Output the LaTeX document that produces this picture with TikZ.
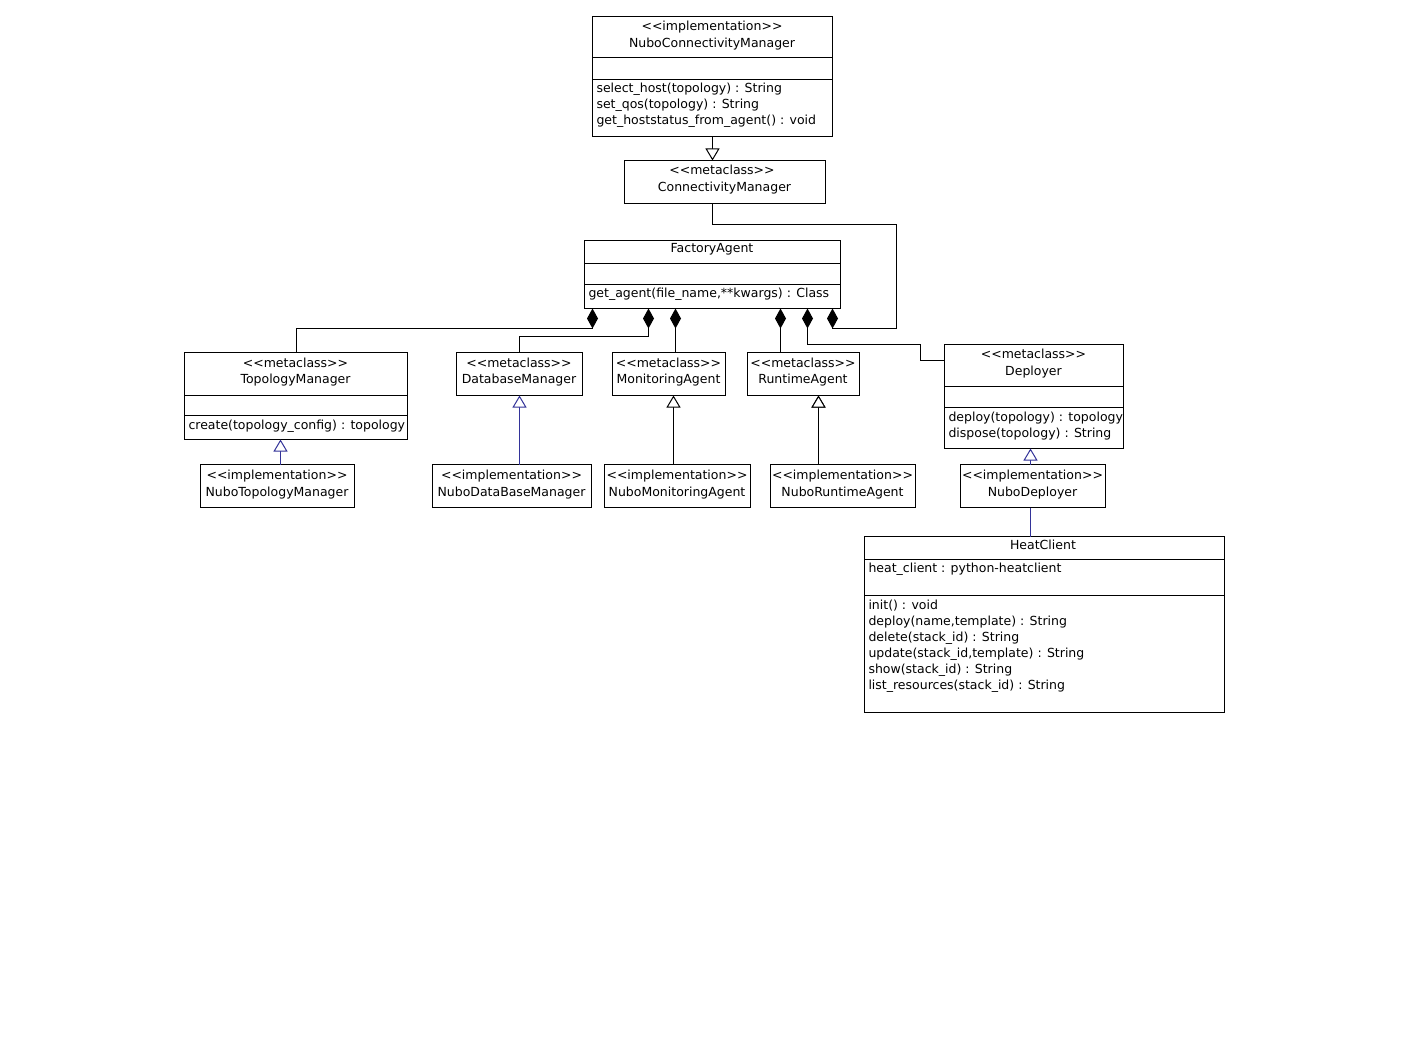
\documentclass[tikz,border=0pt]{standalone}
\usepackage{fontspec}
\setmainfont{DejaVu Sans}
\usetikzlibrary{arrows.meta,calc,positioning}
\definecolor{umlblue}{RGB}{51,51,153}
\newcommand{\stopen}{\textless\kern0pt\textless}
\newcommand{\stclose}{\textgreater\kern0pt\textgreater}

\tikzset{
  cls/.style={draw, fill=white, inner sep=0pt, outer sep=0pt},
  hd/.style={inner sep=0pt, anchor=base},
  op/.style={inner sep=0pt, anchor=base west},
  comp/.style={{Diamond[length=20pt,width=11pt]}-},
  gen/.style={-{Triangle[open,fill=white,length=12pt,width=14pt]}},
  genb/.style={gen, draw=umlblue},
  assoc/.style={draw=umlblue}
}

\begin{document}
\begin{tikzpicture}[x=1pt, y=-1pt, line width=1pt,
                    font=\fontsize{12.5pt}{16pt}\selectfont]

    \fill[white] (0,0) rectangle (1408,1064);
    \useasboundingbox (0,0) rectangle (1408,1064);

    % class boxes
    \node[cls, minimum width=240, minimum height=120] (ncm) at (712.5,76.5) {};
    \node[cls, minimum width=201, minimum height=43] (cm) at (725,182) {};
    \node[cls, minimum width=256, minimum height=68] (fa) at (712.5,274.5) {};
    \node[cls, minimum width=223, minimum height=87] (tm) at (296,396) {};
    \node[cls, minimum width=126, minimum height=43] (dbm) at (519.5,374) {};
    \node[cls, minimum width=113, minimum height=43] (mon) at (669,374) {};
    \node[cls, minimum width=112, minimum height=43] (rt) at (803.5,374) {};
    \node[cls, minimum width=179, minimum height=104] (dep) at (1034,396.5) {};
    \node[cls, minimum width=154, minimum height=43] (ntm) at (277.5,486) {};
    \node[cls, minimum width=159, minimum height=43] (ndb) at (512,486) {};
    \node[cls, minimum width=146, minimum height=43] (nmon) at (677.5,486) {};
    \node[cls, minimum width=145, minimum height=43] (nrt) at (843,486) {};
    \node[cls, minimum width=145, minimum height=43] (ndep) at (1033,486) {};
    \node[cls, minimum width=360, minimum height=176] (heat) at (1044.5,624.5) {};

    % compartments
    \draw ($(ncm.north west)+(0,41)$) -- ($(ncm.north east)+(0,41)$);
    \draw ($(ncm.north west)+(0,63)$) -- ($(ncm.north east)+(0,63)$);
    \draw ($(fa.north west)+(0,23)$) -- ($(fa.north east)+(0,23)$);
    \draw ($(fa.north west)+(0,44)$) -- ($(fa.north east)+(0,44)$);
    \draw ($(tm.north west)+(0,43)$) -- ($(tm.north east)+(0,43)$);
    \draw ($(tm.north west)+(0,63)$) -- ($(tm.north east)+(0,63)$);
    \draw ($(dep.north west)+(0,42)$) -- ($(dep.north east)+(0,42)$);
    \draw ($(dep.north west)+(0,63)$) -- ($(dep.north east)+(0,63)$);
    \draw ($(heat.north west)+(0,23)$) -- ($(heat.north east)+(0,23)$);
    \draw ($(heat.north west)+(0,59)$) -- ($(heat.north east)+(0,59)$);

    % texts
    \node[hd] (ncm-st) at (712,31) {\stopen implementation\stclose};
    \node[hd] (ncm-nm) at (712,48) {NuboConnectivityManager};
    \node[op] (ncm-m1) at (596,93) {select\_host(topology) : String};
    \node[op] (ncm-m2) at (596,109) {set\_qos(topology) : String};
    \node[op] (ncm-m3) at (596,125) {get\_hoststatus\_from\_agent() : void};

    \node[hd] (cm-st) at (722,175) {\stopen metaclass\stclose};
    \node[hd] (cm-nm) at (724.5,192) {ConnectivityManager};

    \node[hd] (fa-nm) at (712,253) {FactoryAgent};
    \node[op] (fa-m1) at (588,298) {get\_agent(file\_name,**kwargs) : Class};

    \node[hd] (tm-st) at (295.5,367) {\stopen metaclass\stclose};
    \node[hd] (tm-nm) at (295.5,384) {TopologyManager};
    \node[op] (tm-m1) at (188,429) {create(topology\_config) : topology};

    \node[hd] (dbm-st) at (519,367) {\stopen metaclass\stclose};
    \node[hd] (dbm-nm) at (519,384) {DatabaseManager};
    \node[hd] (mon-st) at (668.5,367) {\stopen metaclass\stclose};
    \node[hd] (mon-nm) at (668.5,384) {MonitoringAgent};
    \node[hd] (rt-st) at (803,367) {\stopen metaclass\stclose};
    \node[hd] (rt-nm) at (803,384) {RuntimeAgent};

    \node[hd] (dep-st) at (1033.5,359) {\stopen metaclass\stclose};
    \node[hd] (dep-nm) at (1033.5,376) {Deployer};
    \node[op] (dep-m1) at (948,421) {deploy(topology) : topology};
    \node[op] (dep-m2) at (948,437) {dispose(topology) : String};

    \node[hd] (ntm-st) at (277,479) {\stopen implementation\stclose};
    \node[hd] (ntm-nm) at (277,496) {NuboTopologyManager};
    \node[hd] (ndb-st) at (511.5,479) {\stopen implementation\stclose};
    \node[hd] (ndb-nm) at (511.5,496) {NuboDataBaseManager};
    \node[hd] (nmon-st) at (677,479) {\stopen implementation\stclose};
    \node[hd] (nmon-nm) at (677,496) {NuboMonitoringAgent};
    \node[hd] (nrt-st) at (842.5,479) {\stopen implementation\stclose};
    \node[hd] (nrt-nm) at (842.5,496) {NuboRuntimeAgent};
    \node[hd] (ndep-st) at (1032.5,479) {\stopen implementation\stclose};
    \node[hd] (ndep-nm) at (1032.5,496) {NuboDeployer};

    \node[hd] (heat-nm) at (1043,549) {HeatClient};
    \node[op] (heat-a1) at (868,572) {heat\_client : python-heatclient};
    \node[op] (heat-m1) at (868,609) {init() : void};
    \node[op] (heat-m2) at (868,625) {deploy(name,template) : String};
    \node[op] (heat-m3) at (868,641) {delete(stack\_id) : String};
    \node[op] (heat-m4) at (868,657) {update(stack\_id,template) : String};
    \node[op] (heat-m5) at (868,673) {show(stack\_id) : String};
    \node[op] (heat-m6) at (868,689) {list\_resources(stack\_id) : String};

    % compositions
    \draw[comp] ($(fa.south west)+(8,0)$) -- ++(0,20) -| (tm.north);
    \draw[comp] ($(fa.south west)+(64,0)$) -- ++(0,28) -| (dbm.north);
    \draw[comp] ($(fa.south west)+(91,0)$) coordinate (c3) -- (c3 |- mon.north);
    \draw[comp] ($(fa.south west)+(196,0)$) coordinate (c4) -- (c4 |- rt.north);
    \draw[comp] ($(fa.south west)+(223,0)$) -- ++(0,36)
        -| ($(dep.north west)+(-24,16)$) -- ($(dep.north west)+(0,16)$);
    \draw[comp] ($(fa.south west)+(248,0)$) -- ++(0,20) -| ++(64,-104)
        -| (ncm.south |- cm.south);

    % generalizations
    \draw[gen] (ncm.south) -- (ncm.south |- cm.north);
    \draw[genb] ($(ntm.north)+(3,0)$) coordinate (g1) -- (g1 |- tm.south);
    \draw[genb] (ndb.north -| dbm.south) -- (dbm.south);
    \draw[gen] ($(nmon.north)+(-4,0)$) coordinate (g3) -- (g3 |- mon.south);
    \draw[gen] ($(rt.south)+(15,0)$) coordinate (g4);
    \draw[gen] (g4 |- nrt.north) -- (g4);
    \draw[genb] ($(ndep.north)+(-2.5,0)$) coordinate (g5) -- (g5 |- dep.south);
    \draw[assoc] ($(ndep.south)+(-2.5,0)$) coordinate (a1) -- (a1 |- heat.north);

\end{tikzpicture}
\end{document}
